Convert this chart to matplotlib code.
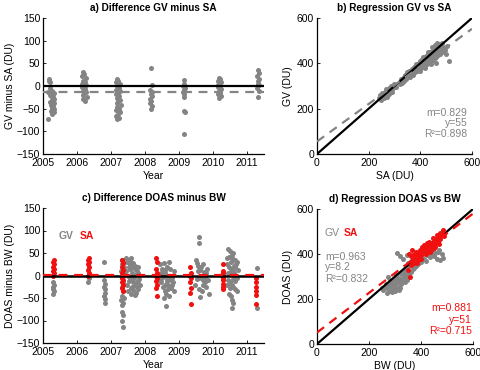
import matplotlib
matplotlib.use("Agg")
import matplotlib.pyplot as plt

plt.rcParams['font.family'] = ['Liberation Sans', 'DejaVu Sans']
plt.rcParams['font.size'] = 7.5

GRAY = '#848484'
RED = '#f01010'

# ---------------- Panel a: GV minus SA ----------------
a_year = [2005.17, 2005.19, 2005.20, 2005.14, 2005.22, 2005.26, 2005.30, 2005.24, 2005.28, 2005.32,
          2005.25, 2005.29, 2005.22, 2005.31, 2005.27, 2005.24, 2005.30, 2005.26, 2005.33, 2005.28,
          2005.23, 2005.31, 2005.27, 2005.25, 2005.15, 2005.20, 2005.29, 2005.33,
          2006.18, 2006.22, 2006.15, 2006.25, 2006.19, 2006.23, 2006.16, 2006.27, 2006.20, 2006.14,
          2006.24, 2006.18, 2006.26, 2006.21, 2006.17, 2006.28, 2006.19, 2006.23,
          2007.18, 2007.22, 2007.15, 2007.25, 2007.19, 2007.23, 2007.16, 2007.27, 2007.20, 2007.14,
          2007.24, 2007.18, 2007.26, 2007.21, 2007.17, 2007.28, 2007.19, 2007.23, 2007.16, 2007.25,
          2007.20, 2007.15, 2007.24, 2007.19,
          2008.18, 2008.20, 2008.15, 2008.22, 2008.17, 2008.21, 2008.14, 2008.19, 2008.16, 2008.20, 2008.18,
          2009.14, 2009.16, 2009.13, 2009.17, 2009.15, 2009.12, 2009.16, 2009.14, 2009.15, 2009.17, 2009.15,
          2010.18, 2010.21, 2010.15, 2010.23, 2010.19, 2010.16, 2010.22, 2010.14, 2010.24, 2010.20,
          2010.17, 2010.21, 2010.15, 2010.23, 2010.19,
          2011.32, 2011.35, 2011.30, 2011.36, 2011.33, 2011.31, 2011.35, 2011.30, 2011.34, 2011.33]
a_diff = [15, 12, 8, -14, -5, -10, -18, -22, -25, -28,
          -30, -33, -36, -38, -40, -43, -45, -48, -50, -52,
          -55, -58, -60, -62, -72, -20, -35, -15,
          30, 26, 22, 18, 12, 8, 5, 2, 0, -3,
          -6, -10, -13, -16, -20, -24, -28, -32,
          15, 12, 8, 5, 0, -4, -8, -12, -15, -18,
          -22, -26, -30, -34, -38, -42, -46, -50, -54, -58,
          -62, -66, -70, -72,
          40, 2, -8, -14, -18, -22, -28, -32, -38, -44, -50,
          13, 5, 0, -4, -8, -14, -18, -24, -55, -58, -106,
          18, 15, 12, 9, 6, 3, 0, -3, -6, -9,
          -12, -15, -18, -22, -26,
          35, 28, 22, 15, 10, 5, 2, -5, -12, -25]
a_mean = -13

# ---------------- Panel b: GV vs SA ----------------
b_sa = [240, 243, 248, 252, 255, 258, 262, 265, 268, 270, 274, 278, 280, 284, 288, 292, 296, 300, 305,
        320, 325, 330, 335, 338, 342, 345, 348, 352, 355, 358, 360, 364, 367, 370, 373, 376, 379, 382, 385,
        388, 390, 393, 396, 398, 400, 403, 405, 408, 410, 413, 415, 418, 420, 422, 425, 428, 430, 432, 435,
        438, 440, 442, 445, 448, 450, 452, 455, 458, 460, 462, 465, 468, 470, 472, 475, 478, 480, 482, 485,
        488, 490, 495, 500, 511, 505, 460, 440, 420, 400, 445, 455, 465, 475, 430, 410]
b_gv = [248, 262, 240, 270, 255, 245, 275, 262, 285, 250, 272, 290, 265, 280, 300, 275, 290, 310, 295,
        310, 330, 315, 340, 322, 350, 330, 360, 338, 350, 368, 340, 358, 375, 350, 368, 385, 360, 378, 395,
        365, 385, 400, 372, 390, 410, 380, 398, 418, 388, 405, 425, 392, 412, 432, 398, 418, 440, 405, 425,
        448, 410, 432, 455, 415, 440, 462, 422, 445, 470, 428, 452, 478, 435, 458, 485, 440, 465, 490, 448,
        470, 455, 460, 440, 410, 475, 400, 395, 380, 365, 470, 480, 488, 472, 452, 430]
b_m, b_y, b_r2 = 0.829, 55, 0.898

# ---------------- Panel c: DOAS minus BW ----------------
c_gv_year = [2005.30, 2005.31, 2005.29, 2005.30, 2005.31, 2005.30,
             2006.33, 2006.34,
             2006.78, 2006.80, 2006.82, 2006.79, 2006.81, 2006.83, 2006.80, 2006.82, 2006.81,
             2007.31, 2007.35, 2007.33, 2007.37, 2007.30, 2007.35, 2007.32, 2007.36, 2007.31, 2007.35,
             2007.33, 2007.37, 2007.30, 2007.35, 2007.33, 2007.31, 2007.35, 2007.33, 2007.34,
             2007.45, 2007.50, 2007.55, 2007.60, 2007.65, 2007.70, 2007.75, 2007.80, 2007.45, 2007.50,
             2007.55, 2007.60, 2007.65, 2007.70, 2007.75, 2007.80, 2007.50, 2007.60, 2007.70, 2007.55,
             2007.62, 2007.68, 2007.72, 2007.78, 2007.85, 2007.48, 2007.58, 2007.66, 2007.74, 2007.82,
             2007.52, 2007.64, 2007.70, 2007.76, 2007.47, 2007.57, 2007.67, 2007.79, 2007.62, 2007.54,
             2008.45, 2008.50, 2008.55, 2008.60, 2008.65, 2008.70, 2008.75, 2008.80, 2008.85, 2008.48,
             2008.52, 2008.58, 2008.62, 2008.68, 2008.72, 2008.78, 2008.82, 2008.55, 2008.50, 2008.60,
             2008.66, 2008.70, 2008.76, 2008.84, 2008.62, 2008.45, 2008.74, 2008.56, 2008.64, 2008.53,
             2008.69, 2008.58, 2008.80, 2008.47,
             2009.50, 2009.52, 2009.55, 2009.60, 2009.65, 2009.70, 2009.75, 2009.80, 2009.85, 2009.48,
             2009.58, 2009.62, 2009.68, 2009.72, 2009.78, 2009.82, 2009.88, 2009.60, 2009.59, 2009.66,
             2009.74, 2009.54, 2009.63, 2009.70, 2009.57, 2009.76,
             2010.45, 2010.50, 2010.55, 2010.40, 2010.60, 2010.65, 2010.70, 2010.42, 2010.48, 2010.52,
             2010.58, 2010.62, 2010.68, 2010.72, 2010.45, 2010.50, 2010.55, 2010.60, 2010.65, 2010.70,
             2010.48, 2010.52, 2010.56, 2010.58, 2010.56, 2010.44, 2010.62, 2010.66, 2010.54, 2010.40,
             2010.74, 2010.47, 2010.57, 2010.64, 2010.50, 2010.60, 2010.53, 2010.68,
             2011.28, 2011.28]
c_gv_diff = [-15, -20, -25, -30, -35, -40,
             -15, -5,
             30, -10, -18, -25, -30, -38, -45, -52, -60,
             35, 30, 25, 18, 10, 5, -5, -15, -25, -35,
             -45, -50, -55, -60, -65, -80, -88, -100, -115,
             38, 30, 25, 40, 20, 15, 10, 5, 10, 0,
             -5, -10, -15, -20, -25, -30, -35, -40, -43, 15,
             5, -2, 22, -12, -20, -20, -28, -33, -38, -8,
             20, 28, 2, -15, 30, 35, -5, 18, -25, -12,
             25, 15, 28, 5, -5, 30, -10, -20, 10, -15,
             -25, -35, -40, -30, -45, -5, -15, -50, -5, -20,
             -12, 0, -28, -35, -67, -10, 15, 8, 20, -2,
             -22, 12, 0, 5,
             35, 28, 10, -5, 20, 25, -15, 5, -10, -20,
             -30, -48, -35, -20, -25, 15, -40, 85, 72, 0,
             8, -8, 12, -10, 22, -3,
             60, 55, 45, 40, 50, 35, 30, 25, 20, 15,
             10, 5, 0, -5, -10, -15, -20, -25, -30, -35,
             -40, -45, -55, -62, -72, 5, 22, -12, 30, -20,
             12, 42, 38, 18, -28, -8, 8, 25,
             17, -72]
c_sa_year = [2005.30, 2005.31, 2005.30, 2005.31, 2005.30, 2005.31, 2005.30, 2005.31,
             2006.33, 2006.34, 2006.33, 2006.34, 2006.33, 2006.34, 2006.33, 2006.34,
             2007.33, 2007.34, 2007.33, 2007.34, 2007.33, 2007.34, 2007.33, 2007.34, 2007.33, 2007.34,
             2007.33, 2007.34,
             2008.33, 2008.34, 2008.33, 2008.34, 2008.33, 2008.34, 2008.33, 2008.34, 2008.33, 2008.34,
             2009.33, 2009.34, 2009.33, 2009.34, 2009.33, 2009.34, 2009.33, 2009.34,
             2010.29, 2010.30, 2010.29, 2010.30, 2010.29, 2010.30, 2010.29, 2010.30, 2010.29,
             2011.26, 2011.26, 2011.26, 2011.26, 2011.26, 2011.26]
c_sa_diff = [0, 5, 10, 15, 20, 25, 30, 35,
             0, 5, 12, 18, 25, 30, 35, 40,
             35, 28, 20, 12, 5, 0, -5, -10, -15, -20,
             -28, -35,
             40, 30, 15, 5, 0, -5, -12, -20, -28, -45,
             20, 5, 0, -5, -15, -28, -38, -63,
             25, 10, 5, 0, -5, -10, -18, -25, -30,
             -6, -14, -26, -35, -44, -64]
c_sa_mean = 2

# ---------------- Panel d: DOAS vs BW ----------------
d_gv_bw = [255, 262, 270, 275, 280, 285, 290, 295, 300, 305, 310, 315, 320, 325, 330, 335, 340, 280, 295, 265,
           310, 300, 320, 290, 268, 288, 305, 325, 275, 345, 250, 315,
           340, 345, 350, 355, 360, 365, 370, 375, 380, 350, 360, 370, 385, 390, 395, 400, 335, 355, 375,
           400, 410, 415, 420, 425, 430, 435, 440, 445, 450, 455, 460, 465, 473, 485, 480, 470, 440, 420,
           307, 318, 330, 345]
d_gv_doas = [240, 255, 248, 265, 235, 258, 270, 245, 262, 280, 250, 270, 290, 265, 282, 300, 275, 280, 290, 268,
             295, 235, 250, 230, 228, 245, 305, 310, 300, 285, 250, 240,
             310, 330, 300, 345, 320, 355, 335, 360, 345, 360, 370, 375, 370, 355, 380, 365, 325, 310, 340,
             390, 380, 400, 370, 395, 410, 385, 400, 420, 390, 405, 380, 410, 373, 384, 400, 420, 430, 420,
             404, 392, 380, 395]
d_sa_bw = [350, 358, 360, 365, 370, 375, 380, 385, 390, 395, 400, 405, 410, 415, 420, 425, 430, 435, 440, 445,
           450, 455, 460, 465, 470, 475, 480, 485, 490, 380, 395, 410, 425, 440, 455, 470, 400, 385, 370, 420,
           355, 365, 360, 405, 415, 430, 445, 460, 475, 390, 435, 450]
d_sa_doas = [330, 298, 350, 370, 380, 360, 395, 385, 405, 390, 415, 400, 425, 410, 435, 420, 445, 430, 450, 435,
             460, 445, 470, 455, 480, 465, 490, 505, 480, 410, 420, 440, 450, 420, 430, 445, 380, 360, 395, 400,
             400, 420, 390, 430, 440, 455, 470, 485, 495, 375, 410, 425]
d_gv_m, d_gv_y, d_gv_r2 = 0.963, 8.2, 0.832
d_sa_m, d_sa_y, d_sa_r2 = 0.881, 51, 0.715

# ---------------- Figure ----------------
fig = plt.figure(figsize=(4.81, 3.70), dpi=100)
W, H = 481, 370


def add_ax(l, r, t, b):
    return fig.add_axes([l / W, 1 - b / H, (r - l) / W, (b - t) / H])


axa = add_ax(43, 264, 18, 154)
axb = add_ax(317, 472, 18, 154)
axc = add_ax(43, 264, 208, 343)
axd = add_ax(317, 473, 209, 344)

for ax in (axa, axb, axc, axd):
    for s in ('top', 'right'):
        ax.spines[s].set_visible(False)
    for s in ('left', 'bottom'):
        ax.spines[s].set_linewidth(0.9)
    ax.tick_params(direction='in', length=2.5, width=0.6, labelsize=7.5, pad=2)
    ax.tick_params(axis='x', pad=3)

dot = dict(s=13, linewidths=0)
years = list(range(2005, 2012))
TFS = 7.2

# a
axa.scatter(a_year, a_diff, color=GRAY, zorder=2, **dot)
axa.axhline(0, color='black', lw=1.6, zorder=3)
axa.axhline(a_mean, color=GRAY, lw=1.6, ls=(0, (4, 3)), zorder=3)
axa.set_xlim(2005, 2011.5)
axa.set_ylim(-150, 150)
axa.set_xticks(years)
axa.set_yticks(range(-150, 151, 50))
axa.set_xlabel('Year', labelpad=2)
axa.set_ylabel('GV minus SA (DU)', labelpad=1)
axa.set_title('a) Difference GV minus SA', fontweight='bold', fontsize=TFS, pad=5)

# b
axb.scatter(b_sa, b_gv, color=GRAY, zorder=2, **dot)
axb.plot([0, 600], [0, 600], color='black', lw=1.6, zorder=3)
axb.plot([0, 600], [b_y, b_y + b_m * 600], color=GRAY, lw=1.6, ls=(0, (4, 3)), zorder=3)
axb.set_xlim(0, 600)
axb.set_ylim(0, 600)
axb.set_xticks([0, 200, 400, 600])
axb.set_yticks([0, 200, 400, 600])
axb.set_xlabel('SA (DU)', labelpad=2)
axb.set_ylabel('GV (DU)', labelpad=3)
axb.set_title('b) Regression GV vs SA', fontweight='bold', fontsize=TFS, pad=5)
for txt, yy in ((f'm={b_m}', 0.305), (f'y={b_y}', 0.23), (f'R²={b_r2}', 0.15)):
    axb.text(0.97, yy, txt, transform=axb.transAxes, ha='right', va='center', color=GRAY, fontsize=7.5)

# c
axc.scatter(c_gv_year, c_gv_diff, color=GRAY, zorder=2, **dot)
axc.scatter(c_sa_year, c_sa_diff, color=RED, zorder=2.5, **dot)
axc.axhline(0, color='black', lw=1.8, zorder=3)
axc.axhline(c_sa_mean, color=RED, lw=1.6, ls=(0, (4, 3)), zorder=3.5)
axc.set_xlim(2005, 2011.5)
axc.set_ylim(-150, 150)
axc.set_xticks(years)
axc.set_yticks(range(-150, 151, 50))
axc.set_xlabel('Year', labelpad=2)
axc.set_ylabel('DOAS minus BW (DU)', labelpad=1)
axc.set_title('c) Difference DOAS minus BW', fontweight='bold', fontsize=TFS, pad=5)
axc.text(0.07, 0.79, 'GV', transform=axc.transAxes, color=GRAY, fontweight='bold', fontsize=7.5, va='center')
axc.text(0.165, 0.79, 'SA', transform=axc.transAxes, color=RED, fontweight='bold', fontsize=7.5, va='center')

# d
axd.scatter(d_gv_bw, d_gv_doas, color=GRAY, zorder=2, **dot)
axd.plot([0, 600], [0, 600], color='black', lw=1.6, zorder=3)
axd.scatter(d_sa_bw, d_sa_doas, color=RED, zorder=3.5, **dot)
axd.plot([0, 600], [d_sa_y, d_sa_y + d_sa_m * 600], color=RED, lw=1.6, ls=(0, (4, 3)), zorder=4)
axd.set_xlim(0, 600)
axd.set_ylim(0, 600)
axd.set_xticks([0, 200, 400, 600])
axd.set_yticks([0, 200, 400, 600])
axd.set_xlabel('BW (DU)', labelpad=2)
axd.set_ylabel('DOAS (DU)', labelpad=3)
axd.set_title('d) Regression DOAS vs BW', fontweight='bold', fontsize=TFS, pad=5)
axd.text(0.05, 0.82, 'GV', transform=axd.transAxes, color=GRAY, fontsize=7.5, va='center')
axd.text(0.17, 0.82, 'SA', transform=axd.transAxes, color=RED, fontweight='bold', fontsize=7.5, va='center')
for txt, yy in ((f'm={d_gv_m}', 0.645), (f'y={d_gv_y}', 0.57), (f'R²={d_gv_r2}', 0.48)):
    axd.text(0.05, yy, txt, transform=axd.transAxes, ha='left', va='center', color=GRAY, fontsize=7.5)
for txt, yy in ((f'm={d_sa_m}', 0.265), (f'y={d_sa_y}', 0.18), (f'R²={d_sa_r2}', 0.095)):
    axd.text(0.995, yy, txt, transform=axd.transAxes, ha='right', va='center', color=RED, fontsize=7.5)

fig.savefig('out.png', dpi=100)
